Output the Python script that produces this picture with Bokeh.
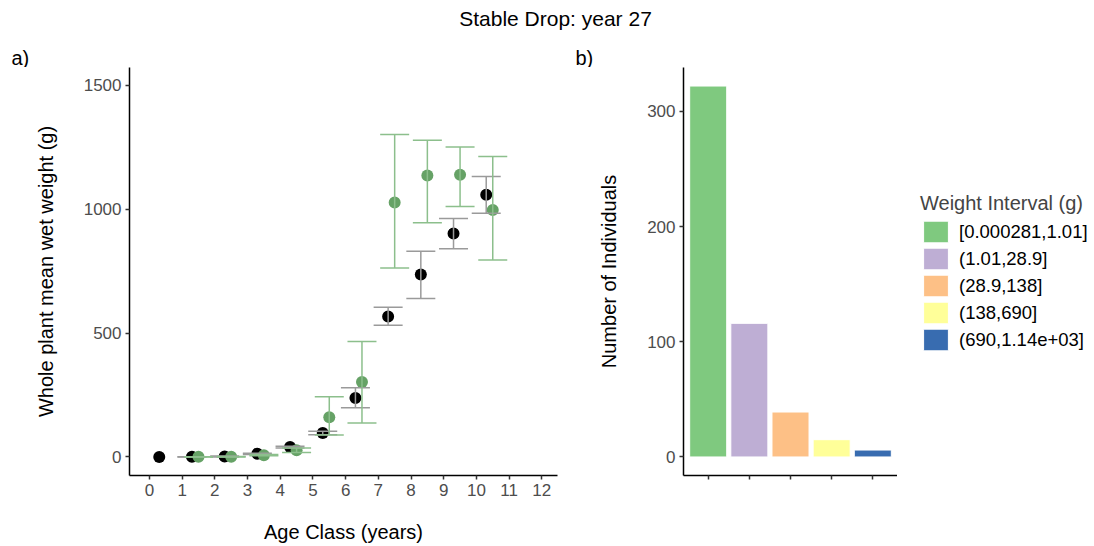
from bokeh.plotting import figure
from bokeh.models import (Range1d, FixedTicker, Label, Legend, LegendItem,
                          Whisker, TeeHead, ColumnDataSource)
from bokeh.layouts import column, row
from bokeh.embed import file_html
from bokeh.resources import INLINE

FONT = "Liberation Sans"

# ---- panel a: mean wet weight by age class ----
age_black = [0.3, 1.3, 2.3, 3.3, 4.3, 5.3, 6.3, 7.3, 8.3, 9.3, 10.3]
mean_black = [0, 1, 2, 13, 40, 97, 238, 567, 736, 902, 1058]
low_black = [None, 0, 0, 10, 36, 90, 198, 532, 640, 840, 984]
high_black = [None, 1, 4, 15, 43, 104, 279, 604, 830, 962, 1132]

age_green = [1.5, 2.5, 3.5, 4.5, 5.5, 6.5, 7.5, 8.5, 9.5, 10.5]
mean_green = [1, 1, 7, 27, 160, 302, 1027, 1136, 1139, 997]
low_green = [0, 0, 5, 18, 88, 137, 763, 945, 1011, 795]
high_green = [1, 2, 10, 36, 243, 466, 1302, 1278, 1251, 1213]

age_ticks = list(range(0, 13))
weight_ticks = [0, 500, 1000, 1500]

# ---- panel b: counts per weight interval ----
intervals = ["[0.000281,1.01]", "(1.01,28.9]", "(28.9,138]", "(138,690]", "(690,1.14e+03]"]
counts = [322, 116, 39, 15, 6]
interval_colors = ["#7FC97F", "#BEAED4", "#FDC086", "#FFFF99", "#386CB0"]
count_ticks = [0, 100, 200, 300]

TICK_COLOR = "#4D4D4D"
W, H = 1094, 546
TOP = 67          # height of the heading strip
PANEL_H = H - TOP


def style_axes(p):
    p.xgrid.visible = False
    p.ygrid.visible = False
    p.outline_line_color = None
    p.background_fill_color = "white"
    p.border_fill_color = "white"
    for ax in (p.xaxis[0], p.yaxis[0]):
        ax.axis_line_color = "black"
        ax.axis_line_width = 1.5
        ax.major_tick_line_color = "#333333"
        ax.major_tick_line_width = 1.5
        ax.major_tick_in = 0
        ax.major_tick_out = 4
        ax.minor_tick_line_color = None
        ax.major_label_text_font = FONT
        ax.major_label_text_font_size = "17px"
        ax.major_label_text_color = TICK_COLOR
        ax.major_label_standoff = 4
        ax.axis_label_text_font = FONT
        ax.axis_label_text_font_size = "20px"
        ax.axis_label_text_font_style = "normal"
        ax.axis_label_text_color = "black"


def blank(width, height):
    b = figure(width=width, height=height, x_range=Range1d(0, width), y_range=Range1d(0, height),
               toolbar_location=None, output_backend="svg", min_border=0)
    b.axis.visible = False
    b.grid.visible = False
    b.outline_line_color = None
    return b


# heading strip: overall title and panel tags
pt = blank(W, TOP)
pt.add_layout(Label(x=555, y=TOP - 18, text="Stable Drop: year 27", text_font=FONT,
                    text_font_size="21px", text_align="center", text_baseline="middle",
                    text_color="black"))
pt.add_layout(Label(x=11, y=TOP - 57, text="a)", text_font=FONT, text_font_size="20px",
                    text_baseline="middle", text_color="black"))
pt.add_layout(Label(x=575, y=TOP - 57, text="b)", text_font=FONT, text_font_size="20px",
                    text_baseline="middle", text_color="black"))

# panel a
p1 = figure(width=570, height=PANEL_H, x_range=Range1d(-0.61, 12.48), y_range=Range1d(-75, 1572),
            toolbar_location=None, output_backend="svg",
            min_border_left=129, min_border_right=13, min_border_top=0, min_border_bottom=71)
style_axes(p1)
p1.xaxis.ticker = FixedTicker(ticks=age_ticks)
p1.yaxis.ticker = FixedTicker(ticks=weight_ticks)
p1.xaxis.axis_label = "Age Class (years)"
p1.yaxis.axis_label = "Whole plant mean wet weight (g)"
p1.xaxis.axis_label_standoff = 22
p1.yaxis.axis_label_standoff = 24

bars_black = ColumnDataSource(data=dict(
    x=[a for a, l in zip(age_black, low_black) if l is not None],
    lower=[l for l in low_black if l is not None],
    upper=[h for h in high_black if h is not None],
))
bars_green = ColumnDataSource(data=dict(x=age_green, lower=low_green, upper=high_green))

GREY_BAR = "#9A9A9A"
GREEN_BAR = "#8CBF8C"
GREEN_PT = "#66A266"

w1 = Whisker(base="x", lower="lower", upper="upper", source=bars_black,
             line_color=GREY_BAR, line_width=1.5, level="glyph",
             upper_head=TeeHead(size=29, line_color=GREY_BAR, line_width=1.5),
             lower_head=TeeHead(size=29, line_color=GREY_BAR, line_width=1.5))
p1.add_layout(w1)
p1.scatter(age_black, mean_black, size=12, fill_color="black", line_color=None)

w2 = Whisker(base="x", lower="lower", upper="upper", source=bars_green,
             line_color=GREEN_BAR, line_width=1.5, level="glyph",
             upper_head=TeeHead(size=29, line_color=GREEN_BAR, line_width=1.5),
             lower_head=TeeHead(size=29, line_color=GREEN_BAR, line_width=1.5))
p1.add_layout(w2)
p1.scatter(age_green, mean_green, size=12, fill_color=GREEN_PT, line_color=None)

# panel b
p2 = figure(width=327, height=PANEL_H, x_range=Range1d(0.4, 5.6), y_range=Range1d(-16.1, 338.1),
            toolbar_location=None, output_backend="svg",
            min_border_left=113, min_border_right=0, min_border_top=0, min_border_bottom=71)
style_axes(p2)
p2.xaxis.ticker = FixedTicker(ticks=[1, 2, 3, 4, 5])
p2.xaxis.major_label_overrides = {i: "" for i in range(1, 6)}
p2.yaxis.ticker = FixedTicker(ticks=count_ticks)
p2.yaxis.axis_label = "Number of Individuals"
p2.yaxis.axis_label_standoff = 24

for i, (c, col) in enumerate(zip(counts, interval_colors)):
    p2.vbar(x=[i + 1], top=[c], width=0.9, fill_color=col, line_color="white", line_width=1)

# legend column for panel b (keys share the bar colours); its frame lines up
# with the panel frames, so the offset is measured from the shared x-axis line.
# Area keys are inset by 10% on each side, so the key box is a little larger
# than the swatch that ends up drawn.
p3 = blank(W - 570 - 327, PANEL_H)
items = []
for lab, col in zip(intervals, interval_colors):
    r = p3.vbar(x=[-1000], top=[0], width=0.9, fill_color=col, line_color="white", line_width=1)
    items.append(LegendItem(label=lab, renderers=[r]))

legend = Legend(items=items, location=(23, 122), title="Weight Interval (g)",
                border_line_color=None, background_fill_alpha=0, padding=0, margin=0,
                glyph_width=31, glyph_height=27, label_height=27, spacing=0,
                label_standoff=8, label_text_font=FONT, label_text_font_size="18.5px",
                label_text_color="black", title_text_font=FONT, title_text_font_size="20px",
                title_text_font_style="normal", title_standoff=3)
p3.add_layout(legend)

layout = column(pt, row(p1, p2, p3))
open("out.html", "w").write(file_html(layout, INLINE))
